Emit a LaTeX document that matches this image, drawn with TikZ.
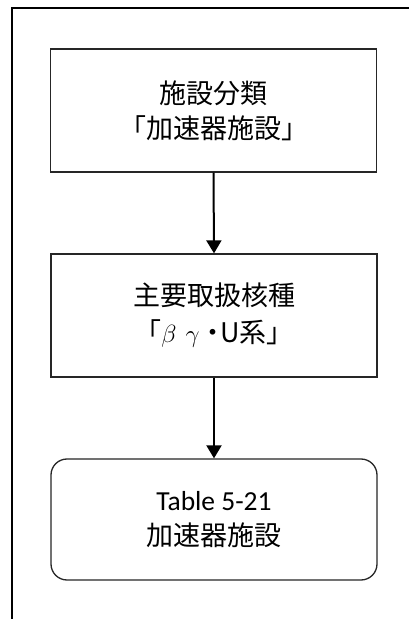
\documentclass[tikz,border=0pt]{standalone}
\usepackage{fontspec}
\newfontfamily\cjk{Noto Sans CJK JP}
\newfontfamily\lat{Carlito}
\usetikzlibrary{arrows.meta}
\newcommand\grk[1]{{\fontsize{31}{35}\selectfont$#1$}}
\tikzset{
  box/.style={draw=black!85, line width=1.3pt, fill=white, minimum width=326pt, minimum height=123pt, inner sep=0pt, align=center, font=\cjk\fontsize{27}{35}\selectfont},
  roundbox/.style={box, rounded corners=16pt, minimum height=121pt},
  conn/.style={line width=2pt, -{Triangle[width=15pt,length=13pt]}},
  frame/.style={line width=2.4pt, line cap=rect}
}
\begin{document}
\begin{tikzpicture}[x=1pt,y=1pt]
\useasboundingbox (0,0) rectangle (409,619);
\coordinate (fr) at (409,611);
\coordinate (fc) at (12,611);
\coordinate (fb) at (12,0);
\draw[frame] (fr) -- (fc) -- (fb);
\node[box] (b1) at (213.5,508.5) {施設分類\\「加速器施設」};
\node[box] (b2) at (214,303.5) {主要取扱核種\\[2pt]「\grk{\beta}\,\,\grk{\gamma}\,\hspace{-5pt}・\hspace{-6pt}U系」};
\node[roundbox] (b3) at (214,99.5) {{\lat\fontsize{27.5}{35}\selectfont Table 5-21}\\加速器施設};
\draw[conn] (b1.south) -- (b2.north);
\draw[conn] (b2.south) -- (b3.north);
\end{tikzpicture}
\end{document}
